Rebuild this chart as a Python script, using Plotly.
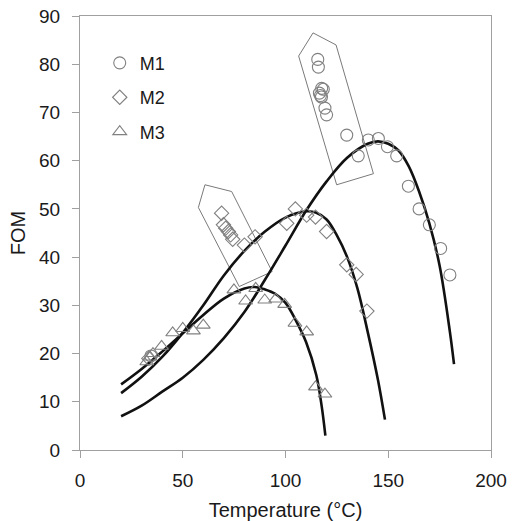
import plotly.graph_objects as go

# ---- data ----
m1_t = [34.5, 115.7, 116.0, 117.6, 118.4, 116.5, 117.0, 117.5, 119.2, 120.0, 129.8, 135.4, 140.3, 145.2, 149.6, 154.1, 159.8, 165.0, 170.0, 175.5, 180.0]
m1_y = [19.5, 81.0, 79.4, 75.0, 74.8, 74.0, 73.5, 73.2, 70.9, 69.5, 65.3, 61.0, 64.3, 64.6, 62.9, 61.0, 54.7, 50.0, 46.7, 41.8, 36.3]

m2_t = [33.5, 68.9, 69.8, 70.9, 72.2, 73.3, 74.3, 80.0, 85.2, 100.6, 104.8, 110.3, 114.6, 120.0, 129.8, 134.4, 139.6]
m2_y = [19.0, 49.1, 46.7, 46.0, 45.3, 44.6, 43.7, 42.5, 44.2, 47.0, 50.0, 48.7, 48.3, 45.3, 38.4, 36.4, 28.8]

m3_t = [32.5, 34.0, 35.5, 39.7, 45.1, 50.0, 55.2, 60.0, 74.9, 80.6, 85.5, 89.9, 95.2, 99.6, 104.6, 110.3, 114.6, 119.2]
m3_y = [18.3, 19.3, 20.0, 21.5, 24.3, 25.2, 24.7, 25.9, 33.2, 30.9, 33.5, 31.1, 31.3, 30.2, 26.3, 24.5, 13.1, 11.6]

# fitted curves
f1_t = [20, 30, 40, 50, 60, 70, 80, 90, 100, 110, 120, 130, 140, 145, 150, 155, 160, 165, 170, 175, 180, 182]
f1_y = [7.0, 9.2, 12.1, 15.0, 18.7, 23.2, 28.6, 35.3, 42.4, 49.6, 55.7, 60.6, 63.5, 64.0, 63.5, 62.1, 58.8, 53.6, 47.0, 38.2, 24.5, 17.8]

f2_t = [20, 30, 40, 50, 60, 70, 80, 90, 100, 110, 115, 120, 125, 130, 135, 140, 145, 148.4]
f2_y = [11.8, 15.2, 19.3, 24.3, 30.0, 36.2, 41.3, 45.3, 48.2, 49.5, 49.2, 47.8, 44.5, 40.0, 33.5, 24.5, 14.5, 6.3]

f3_t = [20, 30, 40, 50, 60, 70, 80, 85, 90, 95, 100, 105, 110, 115, 117.6, 119.4]
f3_y = [13.6, 16.8, 20.4, 24.2, 28.0, 31.4, 33.5, 33.8, 33.3, 32.4, 30.5, 26.9, 22.4, 15.5, 9.1, 3.0]

# outline boxes around clusters
box1_t = [113.4, 124.6, 142.8, 124.9, 106.4, 113.4]
box1_y = [86.5, 84.0, 57.3, 55.0, 81.7, 86.5]
box2_t = [60.8, 73.8, 93.5, 77.5, 57.6, 60.8]
box2_y = [55.0, 53.6, 37.0, 33.9, 50.3, 55.0]

x_ticks = [0, 50, 100, 150, 200]
y_ticks = [0, 10, 20, 30, 40, 50, 60, 70, 80, 90]

GRAY = "#808080"
FONT = "Liberation Sans, Arial"
TXT = "#1a1a1a"
fig = go.Figure()

for bt, by in [(box1_t, box1_y), (box2_t, box2_y)]:
    fig.add_trace(go.Scatter(x=bt, y=by, mode="lines", line=dict(color="#7a7a7a", width=1),
                             showlegend=False, hoverinfo="skip"))

for ft, fy in [(f1_t, f1_y), (f2_t, f2_y), (f3_t, f3_y)]:
    fig.add_trace(go.Scatter(x=ft, y=fy, mode="lines", line=dict(color="#111111", width=2.6, shape="spline"),
                             showlegend=False, hoverinfo="skip"))

fig.add_trace(go.Scatter(x=m1_t, y=m1_y, mode="markers", name="M1", legendgroup="a",
                         marker=dict(symbol="circle-open", size=12, color=GRAY, line=dict(width=1.1, color=GRAY))))
fig.add_trace(go.Scatter(x=m2_t, y=m2_y, mode="markers", name="M2", legendgroup="b",
                         marker=dict(symbol="diamond-open", size=11, color=GRAY, line=dict(width=1.1, color=GRAY))))
fig.add_trace(go.Scatter(x=m3_t, y=m3_y, mode="markers", name="M3", legendgroup="c",
                         marker=dict(symbol="triangle-up-open", size=12, color=GRAY, line=dict(width=1.1, color=GRAY))))

axis_common = dict(showgrid=False, zeroline=False, showline=True, linecolor="#a0a0a0", linewidth=1,
                   mirror=True, ticks="outside", ticklen=7, tickcolor="#a0a0a0",
                   tickfont=dict(family=FONT, size=19, color=TXT))

fig.update_layout(
    width=515, height=521,
    margin=dict(l=80, r=24, t=16, b=71),
    paper_bgcolor="white", plot_bgcolor="white",
    xaxis=dict(range=[0, 200], tickvals=x_ticks, ticktext=[str(v) for v in x_ticks],
               ticklabelstandoff=6, automargin=False,
               title=dict(text="Temperature (°C)", font=dict(family=FONT, size=20, color=TXT), standoff=13),
               **axis_common),
    yaxis=dict(range=[0, 90], tickvals=y_ticks, ticktext=[str(v) for v in y_ticks],
               ticklabelstandoff=8, automargin=False,
               title=dict(text="FOM", font=dict(family=FONT, size=20, color=TXT), standoff=8),
               **axis_common),
    legend=dict(x=0.048, y=0.934, xanchor="left", yanchor="top", bgcolor="rgba(0,0,0,0)",
                font=dict(family=FONT, size=18, color=TXT),
                itemwidth=30, tracegroupgap=8, traceorder="grouped"),
    showlegend=True,
)

fig.write_html("out.html")
